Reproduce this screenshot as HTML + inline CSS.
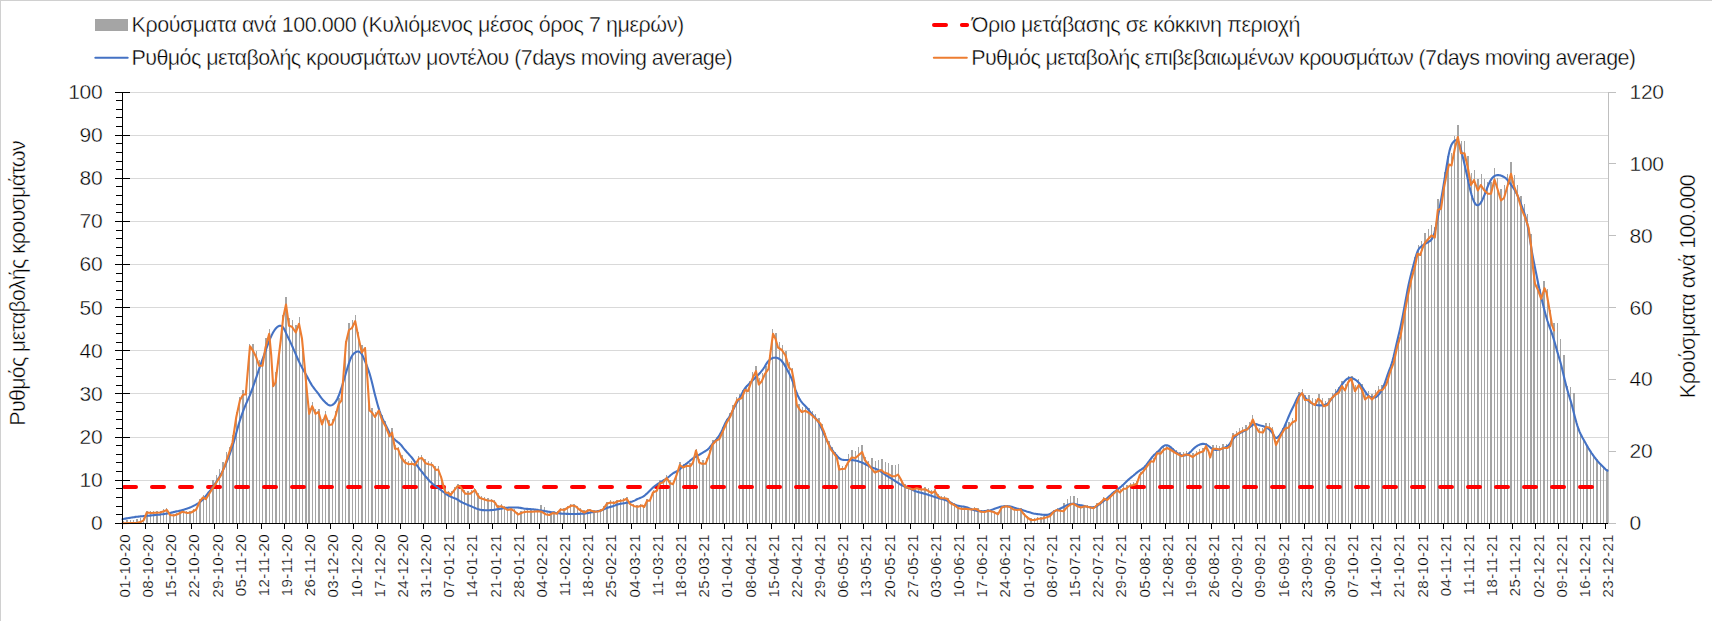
<!DOCTYPE html>
<html lang="el"><head><meta charset="utf-8"><title>Chart</title>
<style>html,body{margin:0;padding:0;background:#fff;}body{width:1712px;height:621px;overflow:hidden;}svg{display:block;}.t text{stroke:#fff;stroke-width:0.4px;paint-order:fill stroke;}.t2 text{stroke:#fff;stroke-width:0.22px;paint-order:fill stroke;}</style>
</head><body>
<svg width="1712" height="621" viewBox="0 0 1712 621">
<rect x="0" y="0" width="1712" height="621" fill="#fff"/>
<path d="M0 0.5H1712M0.5 0V621" stroke="#d0d0d0" stroke-width="1" fill="none"/>
<path d="M123 480.5H1608M123 437.5H1608M123 393.5H1608M123 350.5H1608M123 307.5H1608M123 264.5H1608M123 221.5H1608M123 178.5H1608M123 135.5H1608M123 92.5H1608" stroke="#d9d9d9" stroke-width="1" fill="none"/>
<path d="M123 523V521h1V523zM126 523V520h2V523zM130 523V520h1V523zM133 523V520h1V523zM136 523V519h2V523zM140 523V518h1V523zM143 523V518h1V523zM146 523V511h2V523zM150 523V511h1V523zM153 523V511h1V523zM156 523V511h2V523zM160 523V511h1V523zM163 523V509h1V523zM166 523V508h1V523zM169 523V513h2V523zM173 523V514h1V523zM176 523V513h1V523zM179 523V511h2V523zM183 523V510h1V523zM186 523V511h1V523zM189 523V511h2V523zM193 523V509h1V523zM196 523V507h1V523zM199 523V499h2V523zM203 523V495h1V523zM206 523V496h1V523zM209 523V490h1V523zM212 523V480h2V523zM216 523V475h1V523zM219 523V469h1V523zM222 523V462h2V523zM226 523V452h1V523zM229 523V447h1V523zM232 523V435h2V523zM236 523V412h1V523zM239 523V397h1V523zM242 523V390h2V523zM246 523V383h1V523zM249 523V344h1V523zM252 523V344h2V523zM256 523V351h1V523zM259 523V360h1V523zM262 523V358h1V523zM265 523V338h2V523zM269 523V329h1V523zM272 523V372h1V523zM275 523V372h2V523zM279 523V345h1V523zM282 523V315h1V523zM285 523V297h2V523zM289 523V318h1V523zM292 523V320h1V523zM295 523V325h2V523zM299 523V317h1V523zM302 523V338h1V523zM305 523V374h2V523zM308 523V408h2V523zM312 523V402h1V523zM315 523V409h1V523zM318 523V409h2V523zM322 523V419h1V523zM325 523V411h1V523zM328 523V420h2V523zM332 523V419h1V523zM335 523V411h1V523zM338 523V398h2V523zM342 523V385h1V523zM345 523V341h1V523zM348 523V323h2V523zM352 523V320h1V523zM355 523V315h1V523zM358 523V332h1V523zM361 523V345h2V523zM365 523V347h1V523zM368 523V394h1V523zM371 523V408h2V523zM375 523V412h1V523zM378 523V406h1V523zM381 523V415h2V523zM385 523V421h1V523zM388 523V430h1V523zM391 523V428h2V523zM395 523V445h1V523zM398 523V447h1V523zM401 523V455h2V523zM405 523V459h1V523zM408 523V461h1V523zM411 523V461h1V523zM414 523V462h2V523zM418 523V456h1V523zM421 523V455h1V523zM424 523V459h2V523zM428 523V461h1V523zM431 523V462h1V523zM434 523V466h2V523zM438 523V466h1V523zM441 523V476h1V523zM444 523V488h2V523zM448 523V491h1V523zM451 523V491h1V523zM454 523V487h1V523zM457 523V484h2V523zM461 523V486h1V523zM464 523V490h1V523zM467 523V491h2V523zM471 523V490h1V523zM474 523V488h1V523zM477 523V493h2V523zM481 523V496h1V523zM484 523V497h1V523zM487 523V498h2V523zM491 523V499h1V523zM494 523V500h1V523zM497 523V505h2V523zM501 523V504h1V523zM504 523V506h1V523zM507 523V508h1V523zM510 523V507h2V523zM514 523V509h1V523zM517 523V512h1V523zM520 523V511h2V523zM524 523V510h1V523zM527 523V510h1V523zM530 523V510h2V523zM534 523V510h1V523zM537 523V509h1V523zM540 523V505h2V523zM544 523V507h1V523zM547 523V513h1V523zM550 523V512h2V523zM553 523V511h2V523zM557 523V511h1V523zM560 523V508h1V523zM563 523V508h2V523zM567 523V506h1V523zM570 523V504h1V523zM573 523V504h2V523zM577 523V506h1V523zM580 523V508h1V523zM583 523V510h2V523zM587 523V509h1V523zM590 523V509h1V523zM593 523V510h2V523zM597 523V510h1V523zM600 523V509h1V523zM603 523V506h1V523zM606 523V502h2V523zM610 523V500h1V523zM613 523V501h1V523zM616 523V500h2V523zM620 523V499h1V523zM623 523V498h1V523zM626 523V497h2V523zM630 523V502h1V523zM633 523V504h1V523zM636 523V505h2V523zM640 523V504h1V523zM643 523V505h1V523zM646 523V499h2V523zM650 523V497h1V523zM653 523V490h1V523zM656 523V488h1V523zM659 523V480h2V523zM663 523V479h1V523zM666 523V475h1V523zM669 523V480h2V523zM673 523V481h1V523zM676 523V472h1V523zM679 523V462h2V523zM683 523V464h1V523zM686 523V463h1V523zM689 523V463h2V523zM693 523V458h1V523zM696 523V449h1V523zM699 523V459h1V523zM702 523V460h2V523zM706 523V458h1V523zM709 523V450h1V523zM712 523V440h2V523zM716 523V437h1V523zM719 523V434h1V523zM722 523V427h2V523zM726 523V419h1V523zM729 523V413h1V523zM732 523V405h2V523zM736 523V397h1V523zM739 523V394h1V523zM742 523V390h2V523zM746 523V385h1V523zM749 523V381h1V523zM752 523V372h1V523zM755 523V366h2V523zM759 523V378h1V523zM762 523V373h1V523zM765 523V366h2V523zM769 523V355h1V523zM772 523V329h1V523zM775 523V333h2V523zM779 523V342h1V523zM782 523V345h1V523zM785 523V351h2V523zM789 523V362h1V523zM792 523V368h1V523zM795 523V392h2V523zM798 523V404h2V523zM802 523V407h1V523zM805 523V406h1V523zM808 523V408h2V523zM812 523V411h1V523zM815 523V414h1V523zM818 523V418h2V523zM822 523V424h1V523zM825 523V433h1V523zM828 523V441h2V523zM832 523V447h1V523zM835 523V452h1V523zM838 523V465h2V523zM842 523V466h1V523zM845 523V465h1V523zM848 523V454h1V523zM851 523V450h2V523zM855 523V451h1V523zM858 523V447h1V523zM861 523V445h2V523zM865 523V457h1V523zM868 523V461h1V523zM871 523V458h2V523zM875 523V461h1V523zM878 523V460h1V523zM881 523V459h2V523zM885 523V462h1V523zM888 523V463h1V523zM891 523V465h2V523zM895 523V465h1V523zM898 523V464h1V523zM901 523V479h1V523zM904 523V484h2V523zM908 523V485h1V523zM911 523V487h1V523zM914 523V486h2V523zM918 523V486h1V523zM921 523V487h1V523zM924 523V487h2V523zM928 523V488h1V523zM931 523V490h1V523zM934 523V489h2V523zM938 523V494h1V523zM941 523V496h1V523zM944 523V496h1V523zM947 523V498h2V523zM951 523V502h1V523zM954 523V503h1V523zM957 523V506h2V523zM961 523V507h1V523zM964 523V507h1V523zM967 523V507h2V523zM971 523V508h1V523zM974 523V507h1V523zM977 523V508h2V523zM981 523V510h1V523zM984 523V510h1V523zM987 523V509h2V523zM991 523V510h1V523zM994 523V511h1V523zM997 523V512h1V523zM1000 523V507h2V523zM1004 523V505h1V523zM1007 523V505h1V523zM1010 523V506h2V523zM1014 523V508h1V523zM1017 523V508h1V523zM1020 523V508h2V523zM1024 523V513h1V523zM1027 523V516h1V523zM1030 523V518h2V523zM1034 523V518h1V523zM1037 523V517h1V523zM1040 523V517h2V523zM1043 523V516h2V523zM1047 523V515h1V523zM1050 523V513h1V523zM1053 523V510h2V523zM1057 523V508h1V523zM1060 523V509h1V523zM1063 523V503h2V523zM1067 523V499h1V523zM1070 523V496h1V523zM1073 523V496h2V523zM1077 523V498h1V523zM1080 523V505h1V523zM1083 523V505h2V523zM1087 523V505h1V523zM1090 523V506h1V523zM1093 523V506h1V523zM1096 523V503h2V523zM1100 523V501h1V523zM1103 523V497h1V523zM1106 523V498h2V523zM1110 523V495h1V523zM1113 523V491h1V523zM1116 523V488h2V523zM1120 523V489h1V523zM1123 523V486h1V523zM1126 523V485h2V523zM1130 523V483h1V523zM1133 523V482h1V523zM1136 523V481h2V523zM1140 523V472h1V523zM1143 523V468h1V523zM1146 523V464h1V523zM1149 523V459h2V523zM1153 523V458h1V523zM1156 523V451h1V523zM1159 523V450h2V523zM1163 523V446h1V523zM1166 523V445h1V523zM1169 523V446h2V523zM1173 523V448h1V523zM1176 523V450h1V523zM1179 523V452h2V523zM1183 523V452h1V523zM1186 523V451h1V523zM1189 523V452h1V523zM1192 523V453h2V523zM1196 523V451h1V523zM1199 523V449h1V523zM1202 523V448h2V523zM1206 523V443h1V523zM1209 523V452h1V523zM1212 523V445h2V523zM1216 523V445h1V523zM1219 523V446h1V523zM1222 523V444h2V523zM1226 523V444h1V523zM1229 523V443h1V523zM1232 523V433h2V523zM1236 523V431h1V523zM1239 523V428h1V523zM1242 523V427h1V523zM1245 523V425h2V523zM1249 523V422h1V523zM1252 523V415h1V523zM1255 523V423h2V523zM1259 523V428h1V523zM1262 523V428h1V523zM1265 523V423h2V523zM1269 523V423h1V523zM1272 523V427h1V523zM1275 523V441h2V523zM1279 523V435h1V523zM1282 523V428h1V523zM1285 523V424h2V523zM1288 523V422h2V523zM1292 523V418h1V523zM1295 523V416h1V523zM1298 523V392h2V523zM1302 523V389h1V523zM1305 523V395h1V523zM1308 523V395h2V523zM1312 523V398h1V523zM1315 523V399h1V523zM1318 523V394h2V523zM1322 523V398h1V523zM1325 523V401h1V523zM1328 523V398h2V523zM1332 523V393h1V523zM1335 523V389h1V523zM1338 523V387h1V523zM1341 523V381h2V523zM1345 523V384h1V523zM1348 523V376h1V523zM1351 523V376h2V523zM1355 523V385h1V523zM1358 523V379h1V523zM1361 523V384h2V523zM1365 523V394h1V523zM1368 523V391h1V523zM1371 523V394h2V523zM1375 523V390h1V523zM1378 523V386h1V523zM1381 523V385h2V523zM1385 523V381h1V523zM1388 523V372h1V523zM1391 523V362h1V523zM1394 523V350h2V523zM1398 523V336h1V523zM1401 523V322h1V523zM1404 523V303h2V523zM1408 523V285h1V523zM1411 523V270h1V523zM1414 523V257h2V523zM1418 523V245h1V523zM1421 523V241h1V523zM1424 523V233h2V523zM1428 523V229h1V523zM1431 523V225h1V523zM1434 523V227h1V523zM1437 523V199h2V523zM1441 523V194h1V523zM1444 523V172h1V523zM1447 523V156h2V523zM1451 523V153h1V523zM1454 523V136h1V523zM1457 523V125h2V523zM1461 523V141h1V523zM1464 523V141h1V523zM1467 523V156h2V523zM1471 523V173h1V523zM1474 523V170h1V523zM1477 523V179h2V523zM1481 523V174h1V523zM1484 523V179h1V523zM1487 523V182h1V523zM1490 523V182h2V523zM1494 523V168h1V523zM1497 523V178h1V523zM1500 523V189h2V523zM1504 523V185h1V523zM1507 523V174h1V523zM1510 523V162h2V523zM1514 523V175h1V523zM1517 523V185h1V523zM1520 523V196h2V523zM1524 523V204h1V523zM1527 523V214h1V523zM1530 523V234h2V523zM1533 523V268h2V523zM1537 523V280h1V523zM1540 523V289h1V523zM1543 523V281h2V523zM1547 523V289h1V523zM1550 523V310h1V523zM1553 523V323h2V523zM1557 523V323h1V523zM1560 523V339h1V523zM1563 523V355h2V523zM1567 523V386h1V523zM1570 523V387h1V523zM1573 523V393h2V523zM1577 523V424h1V523zM1580 523V433h1V523zM1583 523V439h1V523zM1586 523V445h2V523zM1590 523V450h1V523zM1593 523V455h1V523zM1596 523V459h2V523zM1600 523V463h1V523zM1603 523V466h1V523zM1606 523V469h2V523z" fill="#a5a5a5" stroke="none"/>
<path d="M1608.5 92V524M1608 523.5h8M1608 451.5h8M1608 379.5h8M1608 307.5h8M1608 235.5h8M1608 163.5h8M1608 92.5h8" stroke="#bfbfbf" stroke-width="1" fill="none"/>
<path d="M124 487.1H1596" stroke="#ff0000" stroke-width="4" stroke-linecap="round" stroke-dasharray="12 16" fill="none"/>
<path d="M122.5 519.2 L123.5 519.0 L124.5 518.8 L125.5 518.6 L126.5 518.4 L127.5 518.2 L128.5 518.0 L129.5 517.9 L130.5 517.7 L131.5 517.5 L132.5 517.4 L133.5 517.2 L134.5 517.1 L135.5 516.9 L136.5 516.8 L137.5 516.7 L138.5 516.6 L139.5 516.5 L140.5 516.4 L141.5 516.3 L142.5 516.2 L143.5 516.1 L144.5 516.0 L145.5 515.9 L146.5 515.8 L147.5 515.7 L148.5 515.7 L149.5 515.6 L150.5 515.5 L151.5 515.4 L152.5 515.3 L153.5 515.2 L154.5 515.1 L155.5 515.0 L156.5 514.9 L157.5 514.8 L158.5 514.7 L159.5 514.6 L160.5 514.4 L161.5 514.3 L162.5 514.2 L163.5 514.1 L164.5 513.9 L165.5 513.8 L166.5 513.7 L167.5 513.5 L168.5 513.3 L169.5 513.1 L170.5 512.9 L171.5 512.6 L172.5 512.4 L173.5 512.1 L174.5 511.9 L175.5 511.6 L176.5 511.4 L177.5 511.2 L178.5 511.0 L179.5 510.7 L180.5 510.5 L181.5 510.3 L182.5 510.0 L183.5 509.7 L184.5 509.4 L185.5 509.1 L186.5 508.8 L187.5 508.4 L188.5 508.1 L189.5 507.7 L190.5 507.3 L191.5 506.9 L192.5 506.4 L193.5 505.9 L194.5 505.4 L195.5 504.9 L196.5 504.3 L197.5 503.7 L198.5 503.1 L199.5 502.4 L200.5 501.7 L201.5 500.8 L202.5 499.9 L203.5 498.8 L204.5 497.7 L205.5 496.4 L206.5 495.1 L207.5 493.8 L208.5 492.5 L209.5 491.3 L210.5 490.1 L211.5 488.8 L212.5 487.5 L213.5 486.1 L214.5 484.6 L215.5 483.1 L216.5 481.6 L217.5 480.0 L218.5 478.3 L219.5 476.7 L220.5 474.9 L221.5 473.1 L222.5 471.2 L223.5 469.1 L224.5 467.0 L225.5 464.7 L226.5 462.4 L227.5 459.9 L228.5 457.4 L229.5 454.8 L230.5 452.0 L231.5 449.1 L232.5 446.1 L233.5 442.9 L234.5 439.4 L235.5 435.9 L236.5 432.2 L237.5 428.6 L238.5 425.1 L239.5 421.7 L240.5 418.6 L241.5 415.7 L242.5 412.8 L243.5 410.2 L244.5 407.6 L245.5 405.2 L246.5 402.9 L247.5 400.6 L248.5 398.4 L249.5 396.1 L250.5 393.6 L251.5 391.0 L252.5 388.3 L253.5 385.5 L254.5 382.7 L255.5 379.7 L256.5 376.8 L257.5 373.8 L258.5 370.7 L259.5 367.8 L260.5 364.9 L261.5 362.1 L262.5 359.3 L263.5 356.6 L264.5 353.8 L265.5 351.1 L266.5 348.2 L267.5 345.4 L268.5 342.7 L269.5 340.1 L270.5 337.7 L271.5 335.6 L272.5 333.6 L273.5 331.8 L274.5 330.2 L275.5 328.8 L276.5 327.7 L277.5 326.8 L278.5 326.2 L279.5 325.8 L280.5 325.8 L281.5 326.1 L282.5 326.7 L283.5 327.9 L284.5 329.7 L285.5 331.9 L286.5 334.1 L287.5 336.2 L288.5 338.2 L289.5 340.3 L290.5 342.4 L291.5 344.6 L292.5 346.8 L293.5 349.1 L294.5 351.4 L295.5 353.7 L296.5 356.0 L297.5 358.2 L298.5 360.5 L299.5 362.6 L300.5 364.7 L301.5 366.6 L302.5 368.4 L303.5 370.2 L304.5 371.9 L305.5 373.7 L306.5 375.5 L307.5 377.3 L308.5 379.2 L309.5 381.1 L310.5 382.9 L311.5 384.6 L312.5 386.1 L313.5 387.5 L314.5 388.8 L315.5 390.1 L316.5 391.3 L317.5 392.6 L318.5 393.9 L319.5 395.4 L320.5 396.8 L321.5 398.2 L322.5 399.4 L323.5 400.6 L324.5 401.6 L325.5 402.6 L326.5 403.4 L327.5 404.3 L328.5 405.0 L329.5 405.4 L330.5 405.5 L331.5 405.3 L332.5 404.9 L333.5 404.2 L334.5 403.3 L335.5 402.0 L336.5 400.4 L337.5 398.5 L338.5 396.3 L339.5 393.7 L340.5 390.9 L341.5 387.9 L342.5 384.7 L343.5 381.3 L344.5 377.9 L345.5 374.5 L346.5 371.1 L347.5 367.8 L348.5 364.6 L349.5 361.7 L350.5 359.0 L351.5 356.8 L352.5 355.1 L353.5 353.9 L354.5 353.0 L355.5 352.3 L356.5 351.8 L357.5 351.5 L358.5 351.5 L359.5 351.9 L360.5 352.6 L361.5 353.8 L362.5 355.5 L363.5 357.6 L364.5 360.0 L365.5 362.4 L366.5 365.0 L367.5 367.6 L368.5 370.3 L369.5 373.3 L370.5 376.7 L371.5 380.5 L372.5 384.6 L373.5 388.8 L374.5 392.9 L375.5 396.8 L376.5 400.6 L377.5 404.2 L378.5 407.6 L379.5 410.8 L380.5 413.6 L381.5 416.1 L382.5 418.5 L383.5 420.7 L384.5 422.8 L385.5 424.8 L386.5 426.8 L387.5 428.8 L388.5 430.8 L389.5 432.7 L390.5 434.4 L391.5 435.9 L392.5 437.2 L393.5 438.4 L394.5 439.4 L395.5 440.3 L396.5 441.1 L397.5 441.9 L398.5 442.6 L399.5 443.4 L400.5 444.4 L401.5 445.5 L402.5 446.8 L403.5 448.1 L404.5 449.3 L405.5 450.5 L406.5 451.7 L407.5 452.8 L408.5 453.8 L409.5 455.0 L410.5 456.1 L411.5 457.2 L412.5 458.5 L413.5 459.8 L414.5 461.3 L415.5 462.9 L416.5 464.6 L417.5 466.1 L418.5 467.5 L419.5 468.8 L420.5 470.1 L421.5 471.3 L422.5 472.5 L423.5 473.8 L424.5 475.1 L425.5 476.3 L426.5 477.5 L427.5 478.7 L428.5 479.8 L429.5 480.9 L430.5 481.9 L431.5 482.8 L432.5 483.7 L433.5 484.5 L434.5 485.3 L435.5 486.0 L436.5 486.8 L437.5 487.5 L438.5 488.3 L439.5 489.0 L440.5 489.8 L441.5 490.5 L442.5 491.3 L443.5 492.0 L444.5 492.8 L445.5 493.6 L446.5 494.3 L447.5 495.0 L448.5 495.5 L449.5 496.1 L450.5 496.6 L451.5 497.0 L452.5 497.5 L453.5 497.8 L454.5 498.2 L455.5 498.5 L456.5 499.0 L457.5 499.6 L458.5 500.2 L459.5 500.9 L460.5 501.5 L461.5 502.0 L462.5 502.6 L463.5 503.0 L464.5 503.5 L465.5 503.9 L466.5 504.4 L467.5 504.8 L468.5 505.2 L469.5 505.6 L470.5 506.0 L471.5 506.4 L472.5 506.9 L473.5 507.4 L474.5 507.8 L475.5 508.2 L476.5 508.6 L477.5 509.0 L478.5 509.3 L479.5 509.6 L480.5 509.8 L481.5 510.0 L482.5 510.1 L483.5 510.1 L484.5 510.2 L485.5 510.2 L486.5 510.2 L487.5 510.2 L488.5 510.2 L489.5 510.2 L490.5 510.1 L491.5 510.1 L492.5 510.0 L493.5 509.9 L494.5 509.7 L495.5 509.6 L496.5 509.4 L497.5 509.3 L498.5 509.1 L499.5 508.9 L500.5 508.7 L501.5 508.6 L502.5 508.4 L503.5 508.2 L504.5 508.1 L505.5 507.9 L506.5 507.8 L507.5 507.7 L508.5 507.6 L509.5 507.5 L510.5 507.5 L511.5 507.5 L512.5 507.5 L513.5 507.5 L514.5 507.5 L515.5 507.5 L516.5 507.5 L517.5 507.5 L518.5 507.6 L519.5 507.7 L520.5 507.9 L521.5 508.1 L522.5 508.3 L523.5 508.5 L524.5 508.7 L525.5 508.8 L526.5 508.9 L527.5 508.9 L528.5 509.0 L529.5 509.0 L530.5 509.1 L531.5 509.2 L532.5 509.3 L533.5 509.4 L534.5 509.5 L535.5 509.6 L536.5 509.8 L537.5 509.9 L538.5 510.1 L539.5 510.2 L540.5 510.4 L541.5 510.6 L542.5 510.7 L543.5 510.9 L544.5 511.1 L545.5 511.3 L546.5 511.4 L547.5 511.6 L548.5 511.8 L549.5 511.9 L550.5 512.1 L551.5 512.3 L552.5 512.4 L553.5 512.6 L554.5 512.7 L555.5 512.9 L556.5 513.0 L557.5 513.2 L558.5 513.3 L559.5 513.4 L560.5 513.5 L561.5 513.6 L562.5 513.7 L563.5 513.8 L564.5 513.8 L565.5 513.8 L566.5 513.9 L567.5 513.9 L568.5 513.9 L569.5 514.0 L570.5 514.0 L571.5 514.0 L572.5 514.0 L573.5 514.0 L574.5 514.0 L575.5 514.0 L576.5 514.0 L577.5 513.9 L578.5 513.9 L579.5 513.9 L580.5 513.8 L581.5 513.8 L582.5 513.8 L583.5 513.7 L584.5 513.6 L585.5 513.5 L586.5 513.3 L587.5 513.1 L588.5 512.9 L589.5 512.7 L590.5 512.5 L591.5 512.3 L592.5 512.1 L593.5 511.9 L594.5 511.8 L595.5 511.6 L596.5 511.5 L597.5 511.3 L598.5 511.1 L599.5 510.9 L600.5 510.7 L601.5 510.4 L602.5 510.0 L603.5 509.5 L604.5 509.1 L605.5 508.6 L606.5 508.1 L607.5 507.7 L608.5 507.4 L609.5 507.1 L610.5 506.9 L611.5 506.6 L612.5 506.4 L613.5 506.0 L614.5 505.6 L615.5 505.2 L616.5 504.8 L617.5 504.5 L618.5 504.2 L619.5 504.0 L620.5 503.8 L621.5 503.6 L622.5 503.5 L623.5 503.3 L624.5 503.2 L625.5 503.0 L626.5 502.8 L627.5 502.6 L628.5 502.4 L629.5 502.2 L630.5 501.9 L631.5 501.7 L632.5 501.4 L633.5 501.0 L634.5 500.6 L635.5 500.1 L636.5 499.5 L637.5 499.0 L638.5 498.6 L639.5 498.2 L640.5 497.8 L641.5 497.4 L642.5 496.9 L643.5 496.3 L644.5 495.6 L645.5 494.8 L646.5 493.9 L647.5 493.0 L648.5 492.0 L649.5 491.0 L650.5 490.0 L651.5 489.0 L652.5 488.0 L653.5 487.1 L654.5 486.3 L655.5 485.5 L656.5 484.8 L657.5 484.1 L658.5 483.5 L659.5 482.8 L660.5 482.2 L661.5 481.6 L662.5 481.0 L663.5 480.4 L664.5 479.8 L665.5 479.2 L666.5 478.5 L667.5 477.8 L668.5 477.0 L669.5 476.2 L670.5 475.3 L671.5 474.5 L672.5 473.7 L673.5 473.0 L674.5 472.5 L675.5 472.0 L676.5 471.5 L677.5 471.0 L678.5 470.3 L679.5 469.5 L680.5 468.6 L681.5 467.6 L682.5 466.7 L683.5 465.9 L684.5 465.1 L685.5 464.4 L686.5 463.6 L687.5 462.9 L688.5 462.0 L689.5 461.2 L690.5 460.3 L691.5 459.5 L692.5 458.7 L693.5 458.0 L694.5 457.4 L695.5 456.8 L696.5 456.3 L697.5 455.8 L698.5 455.2 L699.5 454.6 L700.5 454.0 L701.5 453.4 L702.5 452.8 L703.5 452.2 L704.5 451.6 L705.5 451.0 L706.5 450.3 L707.5 449.6 L708.5 448.7 L709.5 447.6 L710.5 446.4 L711.5 445.2 L712.5 443.9 L713.5 442.7 L714.5 441.6 L715.5 440.5 L716.5 439.3 L717.5 438.1 L718.5 436.7 L719.5 435.1 L720.5 433.4 L721.5 431.5 L722.5 429.4 L723.5 427.1 L724.5 424.9 L725.5 422.8 L726.5 421.0 L727.5 419.4 L728.5 418.0 L729.5 416.5 L730.5 414.8 L731.5 413.0 L732.5 411.1 L733.5 409.1 L734.5 407.0 L735.5 405.1 L736.5 403.2 L737.5 401.4 L738.5 399.7 L739.5 398.0 L740.5 396.2 L741.5 394.4 L742.5 392.6 L743.5 390.8 L744.5 389.1 L745.5 387.7 L746.5 386.4 L747.5 385.4 L748.5 384.4 L749.5 383.4 L750.5 382.5 L751.5 381.5 L752.5 380.5 L753.5 379.5 L754.5 378.5 L755.5 377.5 L756.5 376.5 L757.5 375.6 L758.5 374.6 L759.5 373.5 L760.5 372.4 L761.5 371.2 L762.5 369.9 L763.5 368.5 L764.5 367.0 L765.5 365.3 L766.5 363.6 L767.5 362.1 L768.5 360.9 L769.5 359.9 L770.5 359.1 L771.5 358.5 L772.5 358.1 L773.5 357.8 L774.5 357.7 L775.5 357.6 L776.5 357.7 L777.5 358.0 L778.5 358.5 L779.5 359.0 L780.5 359.8 L781.5 360.8 L782.5 362.0 L783.5 363.3 L784.5 364.9 L785.5 366.6 L786.5 368.4 L787.5 370.3 L788.5 372.2 L789.5 374.1 L790.5 376.2 L791.5 378.4 L792.5 381.0 L793.5 383.9 L794.5 386.9 L795.5 389.8 L796.5 392.5 L797.5 394.9 L798.5 397.1 L799.5 398.9 L800.5 400.5 L801.5 401.9 L802.5 403.1 L803.5 404.2 L804.5 405.2 L805.5 406.3 L806.5 407.3 L807.5 408.5 L808.5 409.8 L809.5 411.1 L810.5 412.4 L811.5 413.6 L812.5 414.8 L813.5 415.9 L814.5 417.0 L815.5 418.2 L816.5 419.4 L817.5 420.7 L818.5 422.3 L819.5 424.1 L820.5 426.1 L821.5 428.3 L822.5 430.5 L823.5 432.8 L824.5 435.2 L825.5 437.4 L826.5 439.6 L827.5 441.6 L828.5 443.5 L829.5 445.4 L830.5 447.2 L831.5 448.9 L832.5 450.4 L833.5 451.8 L834.5 453.0 L835.5 454.2 L836.5 455.3 L837.5 456.4 L838.5 457.5 L839.5 458.4 L840.5 459.0 L841.5 459.5 L842.5 459.7 L843.5 459.9 L844.5 460.0 L845.5 460.0 L846.5 460.0 L847.5 460.0 L848.5 460.0 L849.5 460.0 L850.5 460.0 L851.5 460.1 L852.5 460.1 L853.5 460.2 L854.5 460.4 L855.5 460.5 L856.5 460.7 L857.5 461.0 L858.5 461.3 L859.5 461.7 L860.5 462.0 L861.5 462.4 L862.5 462.8 L863.5 463.3 L864.5 463.8 L865.5 464.3 L866.5 464.8 L867.5 465.4 L868.5 465.9 L869.5 466.5 L870.5 466.9 L871.5 467.4 L872.5 467.7 L873.5 468.1 L874.5 468.4 L875.5 468.8 L876.5 469.2 L877.5 469.7 L878.5 470.2 L879.5 470.7 L880.5 471.3 L881.5 472.0 L882.5 472.7 L883.5 473.5 L884.5 474.2 L885.5 474.9 L886.5 475.6 L887.5 476.2 L888.5 476.8 L889.5 477.4 L890.5 478.0 L891.5 478.6 L892.5 479.3 L893.5 479.9 L894.5 480.6 L895.5 481.3 L896.5 481.9 L897.5 482.6 L898.5 483.2 L899.5 483.9 L900.5 484.5 L901.5 485.0 L902.5 485.6 L903.5 486.1 L904.5 486.5 L905.5 487.0 L906.5 487.4 L907.5 487.7 L908.5 488.0 L909.5 488.4 L910.5 488.8 L911.5 489.3 L912.5 489.8 L913.5 490.3 L914.5 490.8 L915.5 491.2 L916.5 491.5 L917.5 491.9 L918.5 492.1 L919.5 492.4 L920.5 492.6 L921.5 492.9 L922.5 493.1 L923.5 493.4 L924.5 493.7 L925.5 494.0 L926.5 494.3 L927.5 494.6 L928.5 494.9 L929.5 495.2 L930.5 495.5 L931.5 495.8 L932.5 496.2 L933.5 496.5 L934.5 496.9 L935.5 497.2 L936.5 497.5 L937.5 497.8 L938.5 498.1 L939.5 498.4 L940.5 498.6 L941.5 498.9 L942.5 499.1 L943.5 499.4 L944.5 499.7 L945.5 500.1 L946.5 500.5 L947.5 500.9 L948.5 501.4 L949.5 502.0 L950.5 502.5 L951.5 503.0 L952.5 503.6 L953.5 504.1 L954.5 504.5 L955.5 504.9 L956.5 505.3 L957.5 505.6 L958.5 505.8 L959.5 506.0 L960.5 506.2 L961.5 506.4 L962.5 506.5 L963.5 506.6 L964.5 506.8 L965.5 507.0 L966.5 507.2 L967.5 507.5 L968.5 507.9 L969.5 508.4 L970.5 508.8 L971.5 509.3 L972.5 509.6 L973.5 510.0 L974.5 510.2 L975.5 510.5 L976.5 510.7 L977.5 510.9 L978.5 511.0 L979.5 511.1 L980.5 511.2 L981.5 511.2 L982.5 511.2 L983.5 511.2 L984.5 511.1 L985.5 511.0 L986.5 510.9 L987.5 510.8 L988.5 510.7 L989.5 510.5 L990.5 510.3 L991.5 509.9 L992.5 509.6 L993.5 509.2 L994.5 508.8 L995.5 508.4 L996.5 508.1 L997.5 507.7 L998.5 507.4 L999.5 507.1 L1000.5 506.8 L1001.5 506.6 L1002.5 506.5 L1003.5 506.4 L1004.5 506.4 L1005.5 506.3 L1006.5 506.3 L1007.5 506.3 L1008.5 506.3 L1009.5 506.4 L1010.5 506.6 L1011.5 506.8 L1012.5 507.1 L1013.5 507.4 L1014.5 507.8 L1015.5 508.1 L1016.5 508.4 L1017.5 508.7 L1018.5 508.9 L1019.5 509.2 L1020.5 509.5 L1021.5 509.8 L1022.5 510.1 L1023.5 510.4 L1024.5 510.7 L1025.5 511.0 L1026.5 511.4 L1027.5 511.7 L1028.5 512.0 L1029.5 512.3 L1030.5 512.6 L1031.5 512.9 L1032.5 513.2 L1033.5 513.5 L1034.5 513.7 L1035.5 513.8 L1036.5 514.0 L1037.5 514.1 L1038.5 514.2 L1039.5 514.3 L1040.5 514.5 L1041.5 514.6 L1042.5 514.7 L1043.5 514.8 L1044.5 514.9 L1045.5 514.9 L1046.5 514.9 L1047.5 514.8 L1048.5 514.6 L1049.5 514.2 L1050.5 513.8 L1051.5 513.1 L1052.5 512.5 L1053.5 511.8 L1054.5 511.3 L1055.5 510.8 L1056.5 510.4 L1057.5 509.9 L1058.5 509.5 L1059.5 509.0 L1060.5 508.5 L1061.5 508.0 L1062.5 507.5 L1063.5 507.0 L1064.5 506.4 L1065.5 505.9 L1066.5 505.4 L1067.5 504.9 L1068.5 504.6 L1069.5 504.3 L1070.5 504.1 L1071.5 503.9 L1072.5 503.8 L1073.5 503.8 L1074.5 503.9 L1075.5 504.2 L1076.5 504.4 L1077.5 504.7 L1078.5 505.0 L1079.5 505.1 L1080.5 505.3 L1081.5 505.4 L1082.5 505.6 L1083.5 505.8 L1084.5 506.0 L1085.5 506.3 L1086.5 506.5 L1087.5 506.8 L1088.5 507.0 L1089.5 507.1 L1090.5 507.3 L1091.5 507.4 L1092.5 507.4 L1093.5 507.4 L1094.5 507.2 L1095.5 506.8 L1096.5 506.3 L1097.5 505.6 L1098.5 505.0 L1099.5 504.3 L1100.5 503.6 L1101.5 502.8 L1102.5 502.0 L1103.5 501.2 L1104.5 500.4 L1105.5 499.6 L1106.5 498.7 L1107.5 497.9 L1108.5 497.0 L1109.5 496.1 L1110.5 495.2 L1111.5 494.3 L1112.5 493.4 L1113.5 492.5 L1114.5 491.7 L1115.5 491.0 L1116.5 490.2 L1117.5 489.5 L1118.5 488.7 L1119.5 487.9 L1120.5 487.1 L1121.5 486.3 L1122.5 485.4 L1123.5 484.5 L1124.5 483.5 L1125.5 482.5 L1126.5 481.5 L1127.5 480.5 L1128.5 479.6 L1129.5 478.7 L1130.5 477.9 L1131.5 477.1 L1132.5 476.3 L1133.5 475.5 L1134.5 474.6 L1135.5 473.8 L1136.5 472.9 L1137.5 472.1 L1138.5 471.3 L1139.5 470.6 L1140.5 470.0 L1141.5 469.4 L1142.5 468.7 L1143.5 467.9 L1144.5 466.9 L1145.5 465.8 L1146.5 464.6 L1147.5 463.3 L1148.5 462.0 L1149.5 460.7 L1150.5 459.3 L1151.5 458.0 L1152.5 456.7 L1153.5 455.6 L1154.5 454.6 L1155.5 453.8 L1156.5 452.9 L1157.5 452.1 L1158.5 451.1 L1159.5 450.0 L1160.5 448.9 L1161.5 447.8 L1162.5 446.9 L1163.5 446.2 L1164.5 445.6 L1165.5 445.3 L1166.5 445.2 L1167.5 445.4 L1168.5 445.7 L1169.5 446.3 L1170.5 447.0 L1171.5 447.9 L1172.5 448.9 L1173.5 449.9 L1174.5 450.8 L1175.5 451.6 L1176.5 452.4 L1177.5 453.1 L1178.5 453.7 L1179.5 454.3 L1180.5 454.8 L1181.5 455.2 L1182.5 455.5 L1183.5 455.6 L1184.5 455.5 L1185.5 455.2 L1186.5 454.8 L1187.5 454.3 L1188.5 453.6 L1189.5 452.8 L1190.5 451.9 L1191.5 450.9 L1192.5 449.8 L1193.5 448.8 L1194.5 447.9 L1195.5 447.0 L1196.5 446.3 L1197.5 445.6 L1198.5 445.1 L1199.5 444.7 L1200.5 444.3 L1201.5 444.1 L1202.5 443.9 L1203.5 443.9 L1204.5 444.0 L1205.5 444.3 L1206.5 444.7 L1207.5 445.3 L1208.5 446.0 L1209.5 446.8 L1210.5 447.6 L1211.5 448.3 L1212.5 449.0 L1213.5 449.5 L1214.5 449.8 L1215.5 449.9 L1216.5 449.9 L1217.5 449.8 L1218.5 449.7 L1219.5 449.5 L1220.5 449.3 L1221.5 448.9 L1222.5 448.5 L1223.5 448.1 L1224.5 447.6 L1225.5 447.2 L1226.5 446.7 L1227.5 446.0 L1228.5 445.2 L1229.5 444.1 L1230.5 442.7 L1231.5 441.2 L1232.5 439.8 L1233.5 438.5 L1234.5 437.3 L1235.5 436.3 L1236.5 435.4 L1237.5 434.7 L1238.5 434.0 L1239.5 433.4 L1240.5 432.8 L1241.5 432.3 L1242.5 431.8 L1243.5 431.3 L1244.5 430.8 L1245.5 430.2 L1246.5 429.6 L1247.5 428.9 L1248.5 428.2 L1249.5 427.4 L1250.5 426.6 L1251.5 425.8 L1252.5 425.1 L1253.5 424.4 L1254.5 424.1 L1255.5 424.0 L1256.5 424.3 L1257.5 424.6 L1258.5 424.9 L1259.5 425.2 L1260.5 425.5 L1261.5 425.7 L1262.5 426.0 L1263.5 426.3 L1264.5 426.7 L1265.5 427.1 L1266.5 427.6 L1267.5 428.2 L1268.5 428.8 L1269.5 429.6 L1270.5 430.6 L1271.5 431.8 L1272.5 433.2 L1273.5 434.9 L1274.5 436.6 L1275.5 437.7 L1276.5 438.0 L1277.5 437.5 L1278.5 436.5 L1279.5 435.3 L1280.5 433.9 L1281.5 432.3 L1282.5 430.5 L1283.5 428.6 L1284.5 426.5 L1285.5 424.2 L1286.5 421.8 L1287.5 419.4 L1288.5 417.0 L1289.5 414.7 L1290.5 412.4 L1291.5 410.3 L1292.5 408.2 L1293.5 406.2 L1294.5 404.1 L1295.5 401.9 L1296.5 399.7 L1297.5 397.7 L1298.5 396.0 L1299.5 394.7 L1300.5 393.8 L1301.5 393.7 L1302.5 394.3 L1303.5 395.4 L1304.5 396.7 L1305.5 398.0 L1306.5 399.1 L1307.5 400.1 L1308.5 401.0 L1309.5 401.8 L1310.5 402.5 L1311.5 403.1 L1312.5 403.7 L1313.5 404.1 L1314.5 404.5 L1315.5 404.8 L1316.5 405.0 L1317.5 405.2 L1318.5 405.3 L1319.5 405.4 L1320.5 405.4 L1321.5 405.4 L1322.5 405.3 L1323.5 405.2 L1324.5 404.9 L1325.5 404.6 L1326.5 404.1 L1327.5 403.6 L1328.5 402.7 L1329.5 401.6 L1330.5 400.3 L1331.5 398.9 L1332.5 397.6 L1333.5 396.3 L1334.5 395.0 L1335.5 393.8 L1336.5 392.5 L1337.5 391.2 L1338.5 389.7 L1339.5 388.2 L1340.5 386.7 L1341.5 385.2 L1342.5 383.8 L1343.5 382.5 L1344.5 381.3 L1345.5 380.3 L1346.5 379.4 L1347.5 378.7 L1348.5 378.1 L1349.5 377.8 L1350.5 377.7 L1351.5 377.9 L1352.5 378.2 L1353.5 378.7 L1354.5 379.2 L1355.5 379.8 L1356.5 380.5 L1357.5 381.4 L1358.5 382.4 L1359.5 383.5 L1360.5 384.8 L1361.5 386.1 L1362.5 387.6 L1363.5 389.1 L1364.5 390.7 L1365.5 392.2 L1366.5 393.7 L1367.5 394.8 L1368.5 395.8 L1369.5 396.6 L1370.5 397.1 L1371.5 397.4 L1372.5 397.5 L1373.5 397.5 L1374.5 397.4 L1375.5 397.2 L1376.5 396.7 L1377.5 395.8 L1378.5 394.8 L1379.5 393.6 L1380.5 392.2 L1381.5 390.6 L1382.5 388.7 L1383.5 386.5 L1384.5 384.0 L1385.5 381.2 L1386.5 378.2 L1387.5 375.2 L1388.5 372.4 L1389.5 369.7 L1390.5 367.0 L1391.5 364.1 L1392.5 360.8 L1393.5 357.0 L1394.5 352.8 L1395.5 348.4 L1396.5 344.1 L1397.5 339.8 L1398.5 335.6 L1399.5 331.4 L1400.5 327.0 L1401.5 322.3 L1402.5 317.2 L1403.5 311.9 L1404.5 306.5 L1405.5 301.0 L1406.5 295.6 L1407.5 290.3 L1408.5 285.3 L1409.5 280.7 L1410.5 276.6 L1411.5 272.6 L1412.5 268.8 L1413.5 265.0 L1414.5 261.3 L1415.5 257.7 L1416.5 254.3 L1417.5 251.5 L1418.5 249.4 L1419.5 248.1 L1420.5 247.1 L1421.5 246.3 L1422.5 245.5 L1423.5 244.9 L1424.5 244.2 L1425.5 243.6 L1426.5 243.0 L1427.5 242.5 L1428.5 241.9 L1429.5 241.4 L1430.5 240.6 L1431.5 239.6 L1432.5 238.0 L1433.5 235.7 L1434.5 232.6 L1435.5 228.6 L1436.5 223.9 L1437.5 218.8 L1438.5 213.6 L1439.5 208.4 L1440.5 202.9 L1441.5 197.4 L1442.5 191.6 L1443.5 185.6 L1444.5 179.5 L1445.5 173.3 L1446.5 167.0 L1447.5 161.0 L1448.5 155.5 L1449.5 150.9 L1450.5 147.3 L1451.5 144.7 L1452.5 143.0 L1453.5 141.8 L1454.5 140.9 L1455.5 140.3 L1456.5 140.1 L1457.5 140.7 L1458.5 142.2 L1459.5 144.5 L1460.5 147.8 L1461.5 151.7 L1462.5 155.8 L1463.5 160.0 L1464.5 164.3 L1465.5 168.7 L1466.5 173.3 L1467.5 177.9 L1468.5 182.4 L1469.5 186.8 L1470.5 190.9 L1471.5 194.6 L1472.5 197.8 L1473.5 200.5 L1474.5 202.6 L1475.5 204.1 L1476.5 205.0 L1477.5 205.3 L1478.5 205.0 L1479.5 204.3 L1480.5 203.1 L1481.5 201.6 L1482.5 199.6 L1483.5 197.3 L1484.5 194.9 L1485.5 192.3 L1486.5 189.6 L1487.5 187.0 L1488.5 184.6 L1489.5 182.5 L1490.5 180.6 L1491.5 179.0 L1492.5 177.7 L1493.5 176.7 L1494.5 176.0 L1495.5 175.6 L1496.5 175.3 L1497.5 175.1 L1498.5 175.1 L1499.5 175.2 L1500.5 175.4 L1501.5 175.7 L1502.5 176.2 L1503.5 176.7 L1504.5 177.3 L1505.5 178.0 L1506.5 178.9 L1507.5 180.0 L1508.5 181.3 L1509.5 182.7 L1510.5 184.0 L1511.5 185.3 L1512.5 186.7 L1513.5 188.1 L1514.5 189.7 L1515.5 191.5 L1516.5 193.4 L1517.5 195.5 L1518.5 197.7 L1519.5 200.1 L1520.5 202.6 L1521.5 205.3 L1522.5 208.0 L1523.5 210.8 L1524.5 213.7 L1525.5 216.9 L1526.5 220.6 L1527.5 225.0 L1528.5 230.3 L1529.5 236.3 L1530.5 242.9 L1531.5 249.3 L1532.5 255.0 L1533.5 260.2 L1534.5 265.1 L1535.5 270.1 L1536.5 275.0 L1537.5 280.0 L1538.5 284.7 L1539.5 289.4 L1540.5 293.9 L1541.5 298.2 L1542.5 302.4 L1543.5 306.5 L1544.5 310.4 L1545.5 314.2 L1546.5 317.7 L1547.5 321.0 L1548.5 324.0 L1549.5 326.8 L1550.5 329.5 L1551.5 332.3 L1552.5 335.2 L1553.5 338.4 L1554.5 341.8 L1555.5 345.4 L1556.5 348.9 L1557.5 352.4 L1558.5 355.7 L1559.5 359.1 L1560.5 362.5 L1561.5 366.3 L1562.5 370.4 L1563.5 374.7 L1564.5 379.0 L1565.5 383.1 L1566.5 386.9 L1567.5 390.6 L1568.5 394.0 L1569.5 397.2 L1570.5 400.4 L1571.5 403.8 L1572.5 407.5 L1573.5 411.5 L1574.5 415.4 L1575.5 419.2 L1576.5 422.8 L1577.5 426.1 L1578.5 429.0 L1579.5 431.6 L1580.5 433.8 L1581.5 435.8 L1582.5 437.7 L1583.5 439.5 L1584.5 441.3 L1585.5 443.1 L1586.5 444.9 L1587.5 446.6 L1588.5 448.3 L1589.5 449.9 L1590.5 451.4 L1591.5 453.0 L1592.5 454.4 L1593.5 455.8 L1594.5 457.2 L1595.5 458.5 L1596.5 459.8 L1597.5 461.0 L1598.5 462.1 L1599.5 463.2 L1600.5 464.2 L1601.5 465.2 L1602.5 466.2 L1603.5 467.2 L1604.5 468.2 L1605.5 469.2 L1606.5 470.1 L1607.5 470.7" stroke="#4472c4" stroke-width="2.1" stroke-linejoin="round" stroke-linecap="round" fill="none"/>
<path d="M122.5 523.2 L137.5 522.8 L141.2 521.8 L143.8 520.0 L146.8 512.5 L151.2 513.0 L160.0 512.5 L163.8 511.2 L167.0 510.0 L170.0 515.0 L173.8 515.5 L177.5 514.2 L182.5 511.8 L187.5 513.0 L191.2 512.5 L196.2 509.5 L200.0 501.2 L203.0 497.5 L205.8 499.2 L210.0 492.5 L215.0 484.5 L221.2 475.0 L225.0 465.0 L228.8 453.8 L232.5 442.5 L236.2 417.5 L240.0 400.0 L243.2 394.5 L245.8 394.5 L247.0 380.0 L250.0 346.2 L252.5 350.0 L255.8 356.2 L259.2 365.8 L262.5 365.8 L265.5 347.5 L269.2 333.8 L271.2 355.0 L273.2 386.2 L275.5 382.5 L278.0 362.5 L280.8 340.0 L283.2 317.5 L286.0 304.5 L289.0 325.8 L292.0 326.8 L295.8 332.5 L299.0 323.8 L302.0 338.8 L304.5 365.0 L307.0 392.5 L309.2 413.8 L312.2 406.2 L315.5 413.8 L318.5 412.0 L322.0 424.5 L325.5 415.0 L329.2 425.0 L332.0 424.5 L335.5 416.2 L338.8 403.8 L341.5 400.5 L343.5 375.0 L346.0 342.5 L349.0 330.0 L352.0 328.0 L355.2 321.2 L358.2 336.2 L361.8 352.5 L365.0 348.0 L367.5 380.0 L369.5 410.5 L372.0 412.5 L375.0 417.0 L378.8 410.5 L382.0 420.0 L385.5 426.2 L389.5 436.2 L392.0 432.5 L395.0 448.8 L398.0 448.8 L401.2 457.5 L405.0 462.5 L408.8 464.2 L412.5 463.8 L415.0 465.0 L418.8 458.8 L422.0 458.0 L425.5 463.2 L428.8 464.2 L432.5 465.0 L435.8 470.0 L438.2 469.5 L441.2 477.5 L443.8 487.5 L445.5 492.5 L448.8 493.0 L450.5 495.0 L453.8 490.8 L457.5 486.2 L460.0 486.2 L462.5 490.0 L465.5 493.8 L470.0 493.8 L475.0 490.0 L477.5 495.0 L480.0 498.0 L483.8 499.2 L487.5 500.5 L492.5 500.8 L495.0 502.5 L497.5 507.0 L501.2 506.2 L504.5 508.0 L507.5 510.0 L511.2 509.2 L514.5 511.2 L518.0 514.5 L522.5 512.5 L526.2 511.8 L532.5 511.8 L538.0 511.2 L541.8 511.8 L545.5 514.2 L549.2 515.0 L553.0 513.0 L556.8 513.8 L560.5 509.5 L564.2 510.0 L568.0 507.5 L571.8 505.5 L575.5 506.2 L579.2 509.5 L584.2 512.5 L589.2 510.0 L594.2 511.8 L599.2 511.2 L603.0 509.5 L606.8 503.8 L610.5 502.5 L614.2 503.0 L618.0 501.2 L623.0 500.5 L626.8 498.8 L629.8 503.8 L634.2 506.2 L638.0 506.8 L641.8 505.5 L644.2 507.0 L647.2 500.5 L649.8 500.8 L653.0 492.5 L656.8 490.8 L659.8 483.2 L663.0 482.5 L666.8 478.0 L669.8 483.0 L673.0 484.2 L676.2 476.2 L679.8 465.0 L683.0 467.5 L686.8 465.8 L690.5 466.2 L693.0 462.5 L696.0 450.5 L699.2 462.5 L701.8 463.8 L705.5 463.8 L709.2 455.0 L712.2 445.0 L715.5 441.2 L719.2 439.2 L723.0 431.2 L726.8 422.5 L730.5 416.2 L734.2 406.2 L737.2 400.0 L741.8 398.0 L745.0 390.0 L748.0 391.2 L750.5 383.8 L753.5 376.2 L756.0 371.2 L758.8 384.5 L761.8 381.2 L765.0 373.8 L768.5 368.8 L770.5 352.5 L773.0 333.8 L775.5 338.8 L778.0 347.5 L781.8 350.0 L785.5 355.5 L788.8 367.5 L791.8 370.0 L794.2 382.5 L796.8 405.0 L799.2 408.8 L801.8 412.0 L805.5 410.8 L809.2 413.0 L813.0 416.2 L816.8 420.0 L820.5 423.8 L823.8 431.2 L826.8 440.0 L830.5 448.8 L834.2 453.8 L836.8 457.5 L839.2 469.5 L841.8 469.0 L845.0 468.8 L848.0 462.5 L851.8 457.5 L855.5 458.0 L858.8 455.0 L862.2 452.0 L864.8 460.0 L868.0 463.8 L871.8 468.8 L874.8 472.5 L878.0 471.2 L881.2 470.0 L884.2 472.5 L888.0 473.8 L891.8 476.2 L895.5 476.2 L898.0 474.5 L900.5 478.8 L903.0 483.8 L905.5 487.0 L909.2 488.2 L913.0 489.5 L916.8 488.2 L920.5 489.5 L924.8 489.2 L928.0 490.8 L931.8 493.0 L935.0 491.2 L938.0 496.2 L941.0 498.2 L944.2 498.2 L947.2 498.8 L950.5 503.2 L954.2 505.0 L958.0 508.0 L961.8 509.0 L966.0 508.8 L971.0 509.5 L976.0 509.0 L981.0 511.8 L984.8 512.0 L988.5 510.8 L993.5 512.0 L998.0 514.2 L1001.8 507.5 L1006.0 506.2 L1009.8 507.0 L1013.5 509.5 L1017.2 510.0 L1020.5 509.5 L1023.5 513.8 L1027.2 517.5 L1031.0 520.0 L1034.8 520.0 L1038.5 518.8 L1042.2 518.5 L1046.0 517.5 L1049.8 516.2 L1053.5 512.0 L1056.5 510.0 L1059.8 510.8 L1063.5 511.2 L1067.2 507.0 L1070.5 504.5 L1073.5 503.8 L1077.2 506.2 L1081.0 507.5 L1084.8 506.2 L1088.5 507.0 L1093.5 508.2 L1097.2 505.0 L1101.0 502.5 L1104.2 498.8 L1107.2 500.0 L1111.0 496.2 L1114.8 492.5 L1117.2 490.0 L1119.8 492.5 L1123.5 488.8 L1126.0 488.8 L1129.8 485.8 L1133.5 485.0 L1136.8 483.8 L1139.8 475.0 L1143.5 471.2 L1147.2 466.2 L1151.0 461.2 L1153.5 461.8 L1157.2 453.2 L1160.5 453.8 L1163.5 450.0 L1167.2 448.0 L1171.0 450.0 L1174.8 452.5 L1178.5 454.5 L1181.5 456.2 L1185.2 454.5 L1189.0 455.0 L1192.8 457.0 L1196.0 454.5 L1199.8 452.5 L1203.5 451.2 L1206.0 446.2 L1208.5 451.2 L1210.2 457.5 L1212.8 448.8 L1216.0 448.8 L1219.8 449.5 L1223.5 448.0 L1227.2 448.0 L1230.2 446.2 L1233.0 436.2 L1236.0 435.0 L1239.8 432.5 L1243.5 430.5 L1247.2 429.5 L1250.5 425.0 L1252.8 419.5 L1255.5 426.2 L1259.0 432.0 L1263.0 432.5 L1266.0 427.0 L1269.2 427.5 L1272.2 430.0 L1276.0 445.0 L1278.5 440.0 L1281.8 433.8 L1284.8 428.8 L1288.5 427.5 L1292.2 422.5 L1296.0 420.5 L1296.2 405.0 L1298.8 397.5 L1302.0 393.0 L1305.0 400.0 L1308.8 400.0 L1311.8 403.2 L1315.0 405.0 L1318.2 398.8 L1321.2 401.2 L1323.8 406.2 L1327.5 405.0 L1331.2 398.8 L1335.0 395.0 L1338.8 392.5 L1342.0 386.2 L1345.0 390.5 L1348.0 382.5 L1351.2 378.8 L1355.0 391.2 L1358.8 385.0 L1362.0 390.0 L1365.0 399.5 L1368.8 396.2 L1372.0 399.5 L1375.8 395.0 L1379.2 390.5 L1382.5 390.0 L1386.2 385.0 L1390.0 372.5 L1393.8 362.5 L1397.0 347.5 L1400.5 336.2 L1403.8 317.5 L1407.5 297.5 L1411.2 280.0 L1415.0 266.2 L1417.5 253.8 L1420.2 255.0 L1422.8 247.5 L1425.2 242.5 L1428.5 238.8 L1431.5 235.5 L1434.8 237.5 L1437.8 210.0 L1441.0 208.8 L1444.0 187.5 L1447.0 172.5 L1449.0 164.5 L1451.5 165.5 L1454.8 148.8 L1457.8 137.0 L1461.0 153.2 L1464.5 153.2 L1467.8 167.5 L1471.0 185.0 L1474.0 180.0 L1477.8 190.5 L1480.8 185.0 L1484.0 190.0 L1487.8 193.8 L1491.0 193.8 L1494.5 179.5 L1497.8 190.0 L1501.0 200.5 L1504.0 198.0 L1507.8 185.0 L1511.0 173.8 L1514.0 186.2 L1517.8 196.2 L1521.5 208.8 L1525.2 217.5 L1528.5 227.5 L1531.0 245.0 L1533.0 267.5 L1535.0 283.8 L1538.0 290.0 L1541.2 298.8 L1544.5 288.2 L1546.5 292.5 L1549.5 310.0 L1552.0 325.0 L1554.0 330.5" stroke="#ed7d31" stroke-width="2.1" stroke-linejoin="round" stroke-linecap="round" fill="none"/>
<path d="M122.5 92V524M115 523.5h15M116 514.5h6M116 506.5h6M116 497.5h6M116 488.5h6M115 480.5h15M116 471.5h6M116 462.5h6M116 454.5h6M116 445.5h6M115 437.5h15M116 428.5h6M116 419.5h6M116 411.5h6M116 402.5h6M115 393.5h15M116 385.5h6M116 376.5h6M116 368.5h6M116 359.5h6M115 350.5h15M116 342.5h6M116 333.5h6M116 324.5h6M116 316.5h6M115 307.5h15M116 299.5h6M116 290.5h6M116 281.5h6M116 273.5h6M115 264.5h15M116 255.5h6M116 247.5h6M116 238.5h6M116 230.5h6M115 221.5h15M116 212.5h6M116 204.5h6M116 195.5h6M116 186.5h6M115 178.5h15M116 169.5h6M116 161.5h6M116 152.5h6M116 143.5h6M115 135.5h15M116 126.5h6M116 117.5h6M116 109.5h6M116 100.5h6M115 92.5h15" stroke="#000" stroke-width="1" fill="none"/>
<path d="M115 523.5H1608M122.5 523v6M145.5 523v6M168.5 523v6M191.5 523v6M214.5 523v6M237.5 523v6M261.5 523v6M284.5 523v6M307.5 523v6M330.5 523v6M353.5 523v6M377.5 523v6M400.5 523v6M423.5 523v6M446.5 523v6M469.5 523v6M492.5 523v6M516.5 523v6M539.5 523v6M562.5 523v6M585.5 523v6M608.5 523v6M631.5 523v6M655.5 523v6M678.5 523v6M701.5 523v6M724.5 523v6M747.5 523v6M771.5 523v6M794.5 523v6M817.5 523v6M840.5 523v6M863.5 523v6M886.5 523v6M910.5 523v6M933.5 523v6M956.5 523v6M979.5 523v6M1002.5 523v6M1025.5 523v6M1049.5 523v6M1072.5 523v6M1095.5 523v6M1118.5 523v6M1141.5 523v6M1165.5 523v6M1188.5 523v6M1211.5 523v6M1234.5 523v6M1257.5 523v6M1280.5 523v6M1304.5 523v6M1327.5 523v6M1350.5 523v6M1373.5 523v6M1396.5 523v6M1419.5 523v6M1443.5 523v6M1466.5 523v6M1489.5 523v6M1512.5 523v6M1535.5 523v6M1558.5 523v6M1582.5 523v6M1605.5 523v6" stroke="#000" stroke-width="1" fill="none"/>
<g font-family="'Liberation Sans', Arial, sans-serif" font-size="21" letter-spacing="-0.3" fill="#000" text-anchor="end" class="t">
<text x="102.3" y="530.0">0</text>
<text x="102.3" y="486.9">10</text>
<text x="102.3" y="443.8">20</text>
<text x="102.3" y="400.7">30</text>
<text x="102.3" y="357.6">40</text>
<text x="102.3" y="314.5">50</text>
<text x="102.3" y="271.4">60</text>
<text x="102.3" y="228.3">70</text>
<text x="102.3" y="185.2">80</text>
<text x="102.3" y="142.1">90</text>
<text x="102.3" y="99.0">100</text>
</g>
<g font-family="'Liberation Sans', Arial, sans-serif" font-size="21" letter-spacing="-0.3" fill="#000" class="t">
<text x="1629.6" y="530.0">0</text>
<text x="1629.6" y="458.2">20</text>
<text x="1629.6" y="386.3">40</text>
<text x="1629.6" y="314.5">60</text>
<text x="1629.6" y="242.7">80</text>
<text x="1629.6" y="170.8">100</text>
<text x="1629.6" y="99.0">120</text>
</g>
<g font-family="'Liberation Sans', Arial, sans-serif" font-size="15" letter-spacing="0.42" fill="#000" text-anchor="end" class="t2">
<text transform="translate(129.8 534.0) rotate(-90)">01-10-20</text>
<text transform="translate(152.9 534.0) rotate(-90)">08-10-20</text>
<text transform="translate(176.1 534.0) rotate(-90)">15-10-20</text>
<text transform="translate(199.3 534.0) rotate(-90)">22-10-20</text>
<text transform="translate(222.5 534.0) rotate(-90)">29-10-20</text>
<text transform="translate(245.6 534.0) rotate(-90)">05-11-20</text>
<text transform="translate(268.8 534.0) rotate(-90)">12-11-20</text>
<text transform="translate(292.0 534.0) rotate(-90)">19-11-20</text>
<text transform="translate(315.2 534.0) rotate(-90)">26-11-20</text>
<text transform="translate(338.3 534.0) rotate(-90)">03-12-20</text>
<text transform="translate(361.5 534.0) rotate(-90)">10-12-20</text>
<text transform="translate(384.7 534.0) rotate(-90)">17-12-20</text>
<text transform="translate(407.9 534.0) rotate(-90)">24-12-20</text>
<text transform="translate(431.0 534.0) rotate(-90)">31-12-20</text>
<text transform="translate(454.2 534.0) rotate(-90)">07-01-21</text>
<text transform="translate(477.4 534.0) rotate(-90)">14-01-21</text>
<text transform="translate(500.6 534.0) rotate(-90)">21-01-21</text>
<text transform="translate(523.7 534.0) rotate(-90)">28-01-21</text>
<text transform="translate(546.9 534.0) rotate(-90)">04-02-21</text>
<text transform="translate(570.1 534.0) rotate(-90)">11-02-21</text>
<text transform="translate(593.3 534.0) rotate(-90)">18-02-21</text>
<text transform="translate(616.4 534.0) rotate(-90)">25-02-21</text>
<text transform="translate(639.6 534.0) rotate(-90)">04-03-21</text>
<text transform="translate(662.8 534.0) rotate(-90)">11-03-21</text>
<text transform="translate(686.0 534.0) rotate(-90)">18-03-21</text>
<text transform="translate(709.1 534.0) rotate(-90)">25-03-21</text>
<text transform="translate(732.3 534.0) rotate(-90)">01-04-21</text>
<text transform="translate(755.5 534.0) rotate(-90)">08-04-21</text>
<text transform="translate(778.7 534.0) rotate(-90)">15-04-21</text>
<text transform="translate(801.8 534.0) rotate(-90)">22-04-21</text>
<text transform="translate(825.0 534.0) rotate(-90)">29-04-21</text>
<text transform="translate(848.2 534.0) rotate(-90)">06-05-21</text>
<text transform="translate(871.4 534.0) rotate(-90)">13-05-21</text>
<text transform="translate(894.6 534.0) rotate(-90)">20-05-21</text>
<text transform="translate(917.7 534.0) rotate(-90)">27-05-21</text>
<text transform="translate(940.9 534.0) rotate(-90)">03-06-21</text>
<text transform="translate(964.1 534.0) rotate(-90)">10-06-21</text>
<text transform="translate(987.3 534.0) rotate(-90)">17-06-21</text>
<text transform="translate(1010.4 534.0) rotate(-90)">24-06-21</text>
<text transform="translate(1033.6 534.0) rotate(-90)">01-07-21</text>
<text transform="translate(1056.8 534.0) rotate(-90)">08-07-21</text>
<text transform="translate(1080.0 534.0) rotate(-90)">15-07-21</text>
<text transform="translate(1103.1 534.0) rotate(-90)">22-07-21</text>
<text transform="translate(1126.3 534.0) rotate(-90)">29-07-21</text>
<text transform="translate(1149.5 534.0) rotate(-90)">05-08-21</text>
<text transform="translate(1172.7 534.0) rotate(-90)">12-08-21</text>
<text transform="translate(1195.8 534.0) rotate(-90)">19-08-21</text>
<text transform="translate(1219.0 534.0) rotate(-90)">26-08-21</text>
<text transform="translate(1242.2 534.0) rotate(-90)">02-09-21</text>
<text transform="translate(1265.4 534.0) rotate(-90)">09-09-21</text>
<text transform="translate(1288.5 534.0) rotate(-90)">16-09-21</text>
<text transform="translate(1311.7 534.0) rotate(-90)">23-09-21</text>
<text transform="translate(1334.9 534.0) rotate(-90)">30-09-21</text>
<text transform="translate(1358.1 534.0) rotate(-90)">07-10-21</text>
<text transform="translate(1381.2 534.0) rotate(-90)">14-10-21</text>
<text transform="translate(1404.4 534.0) rotate(-90)">21-10-21</text>
<text transform="translate(1427.6 534.0) rotate(-90)">28-10-21</text>
<text transform="translate(1450.8 534.0) rotate(-90)">04-11-21</text>
<text transform="translate(1473.9 534.0) rotate(-90)">11-11-21</text>
<text transform="translate(1497.1 534.0) rotate(-90)">18-11-21</text>
<text transform="translate(1520.3 534.0) rotate(-90)">25-11-21</text>
<text transform="translate(1543.5 534.0) rotate(-90)">02-12-21</text>
<text transform="translate(1566.6 534.0) rotate(-90)">09-12-21</text>
<text transform="translate(1589.8 534.0) rotate(-90)">16-12-21</text>
<text transform="translate(1613.0 534.0) rotate(-90)">23-12-21</text>
</g>
<g font-family="'Liberation Sans', Arial, sans-serif" font-size="21.5" fill="#000" text-anchor="middle" class="t">
<text transform="translate(24.8 283) rotate(-90)" textLength="285.3" lengthAdjust="spacing">Ρυθμός μεταβολής κρουσμάτων</text>
<text transform="translate(1694.8 286.2) rotate(-90)" textLength="224" lengthAdjust="spacing">Κρούσματα ανά 100.000</text>
</g>
<rect x="95" y="19" width="33" height="12" fill="#a5a5a5"/>
<path d="M95.3 57.8H127.7" stroke="#4472c4" stroke-width="2" stroke-linecap="round" fill="none"/>
<path d="M934 25H946M961.9 25H967.1" stroke="#ff0000" stroke-width="4" stroke-linecap="round" fill="none"/>
<path d="M933.8 57.8H966.8" stroke="#ed7d31" stroke-width="2" stroke-linecap="round" fill="none"/>
<g font-family="'Liberation Sans', Arial, sans-serif" font-size="21.5" fill="#000" class="t">
<text x="131.5" y="31.7" textLength="552.6" lengthAdjust="spacing">Κρούσματα ανά 100.000 (Κυλιόμενος μέσος όρος 7 ημερών)</text>
<text x="131.5" y="64.5" textLength="601.2" lengthAdjust="spacing">Ρυθμός μεταβολής κρουσμάτων μοντέλου (7days moving average)</text>
<text x="971.7" y="31.7" textLength="328.8" lengthAdjust="spacing">Όριο μετάβασης σε κόκκινη περιοχή</text>
<text x="971.2" y="64.5" textLength="664.8" lengthAdjust="spacing">Ρυθμός μεταβολής επιβεβαιωμένων κρουσμάτων (7days moving average)</text>
</g>
</svg>
</body></html>
